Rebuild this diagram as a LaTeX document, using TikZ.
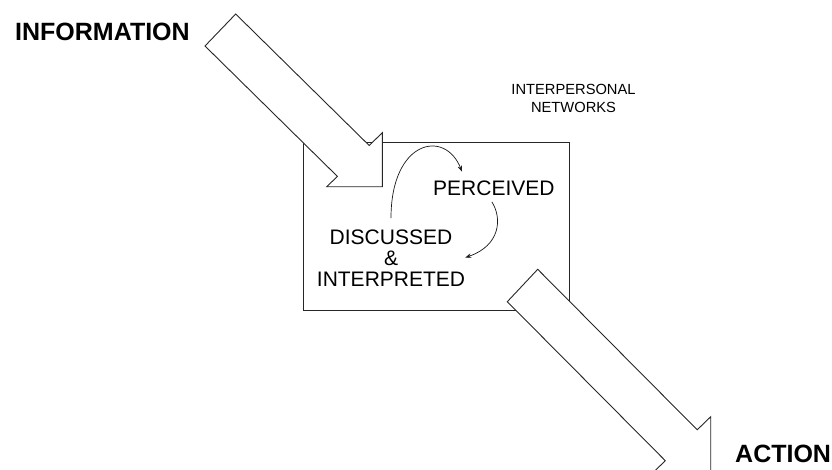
\documentclass[tikz,border=0pt]{standalone}
\usepackage{fontspec}
\setmainfont{Liberation Sans}
\usetikzlibrary{arrows.meta,calc}
\begin{document}
\begin{tikzpicture}[x=1pt,y=-1pt,
  outline/.style={draw=black!85, line width=0.9pt, line join=miter},
  bigarrow/.style={outline, fill=white},
  cycleflow/.style={draw=black!90, line width=0.7pt, -{Stealth[length=6pt,width=4.5pt]}},
  heading/.style={font=\fontsize{25}{30}\selectfont\bfseries, inner sep=0pt},
  stage/.style={font=\fontsize{21}{21}\selectfont, inner sep=0pt, align=center},
  caption/.style={font=\fontsize{14.7}{18}\selectfont, inner sep=0pt, align=center}]
\useasboundingbox (0,0) rectangle (832,469);
\clip (0,0) rectangle (832,469);

% the network frame
\node[outline, minimum width=266pt, minimum height=168pt, inner sep=0pt] (net) at (436,226) {};

% incoming block arrow
\draw[bigarrow] (235.7,14) -- (369.2,145.5) -- (382.3,132.7) -- (382.3,186.7)
  -- (326.7,186.7) -- (337.4,176.4) -- (205,46) -- cycle;

% outgoing block arrow
\draw[bigarrow] (537.7,269.3) -- (697.2,429.8) -- (710.7,416.7) -- (710.7,470.7)
  -- (655,470.7) -- (665.3,460.7) -- (507.3,301.7) -- cycle;

% labels
\node[heading, anchor=base west] (info) at (15,40) {INFORMATION};
\node[heading, anchor=base west] (act) at (735,462) {ACTION};
\node[caption, anchor=north] (inet) at (573.5,84) {INTERPERSONAL\\NETWORKS};
\node[stage, anchor=base west] (perc) at (433,195) {PERCEIVED};
\node[stage, anchor=north] (disc) at (391,230) {DISCUSSED\\\&\\INTERPRETED};

% the interpretation cycle
\draw[cycleflow] ($(disc.north)+(0,-12)$) .. controls +(0,-78) and +(-17,-43)
  .. ($(perc.north west)+(29,-8.5)$);
\draw[cycleflow] ($(perc.south)+(-2,6.5)$) .. controls +(10.5,16.5) and +(35,-12)
  .. ($(disc.east)+(0,-1)$);
\end{tikzpicture}
\end{document}
